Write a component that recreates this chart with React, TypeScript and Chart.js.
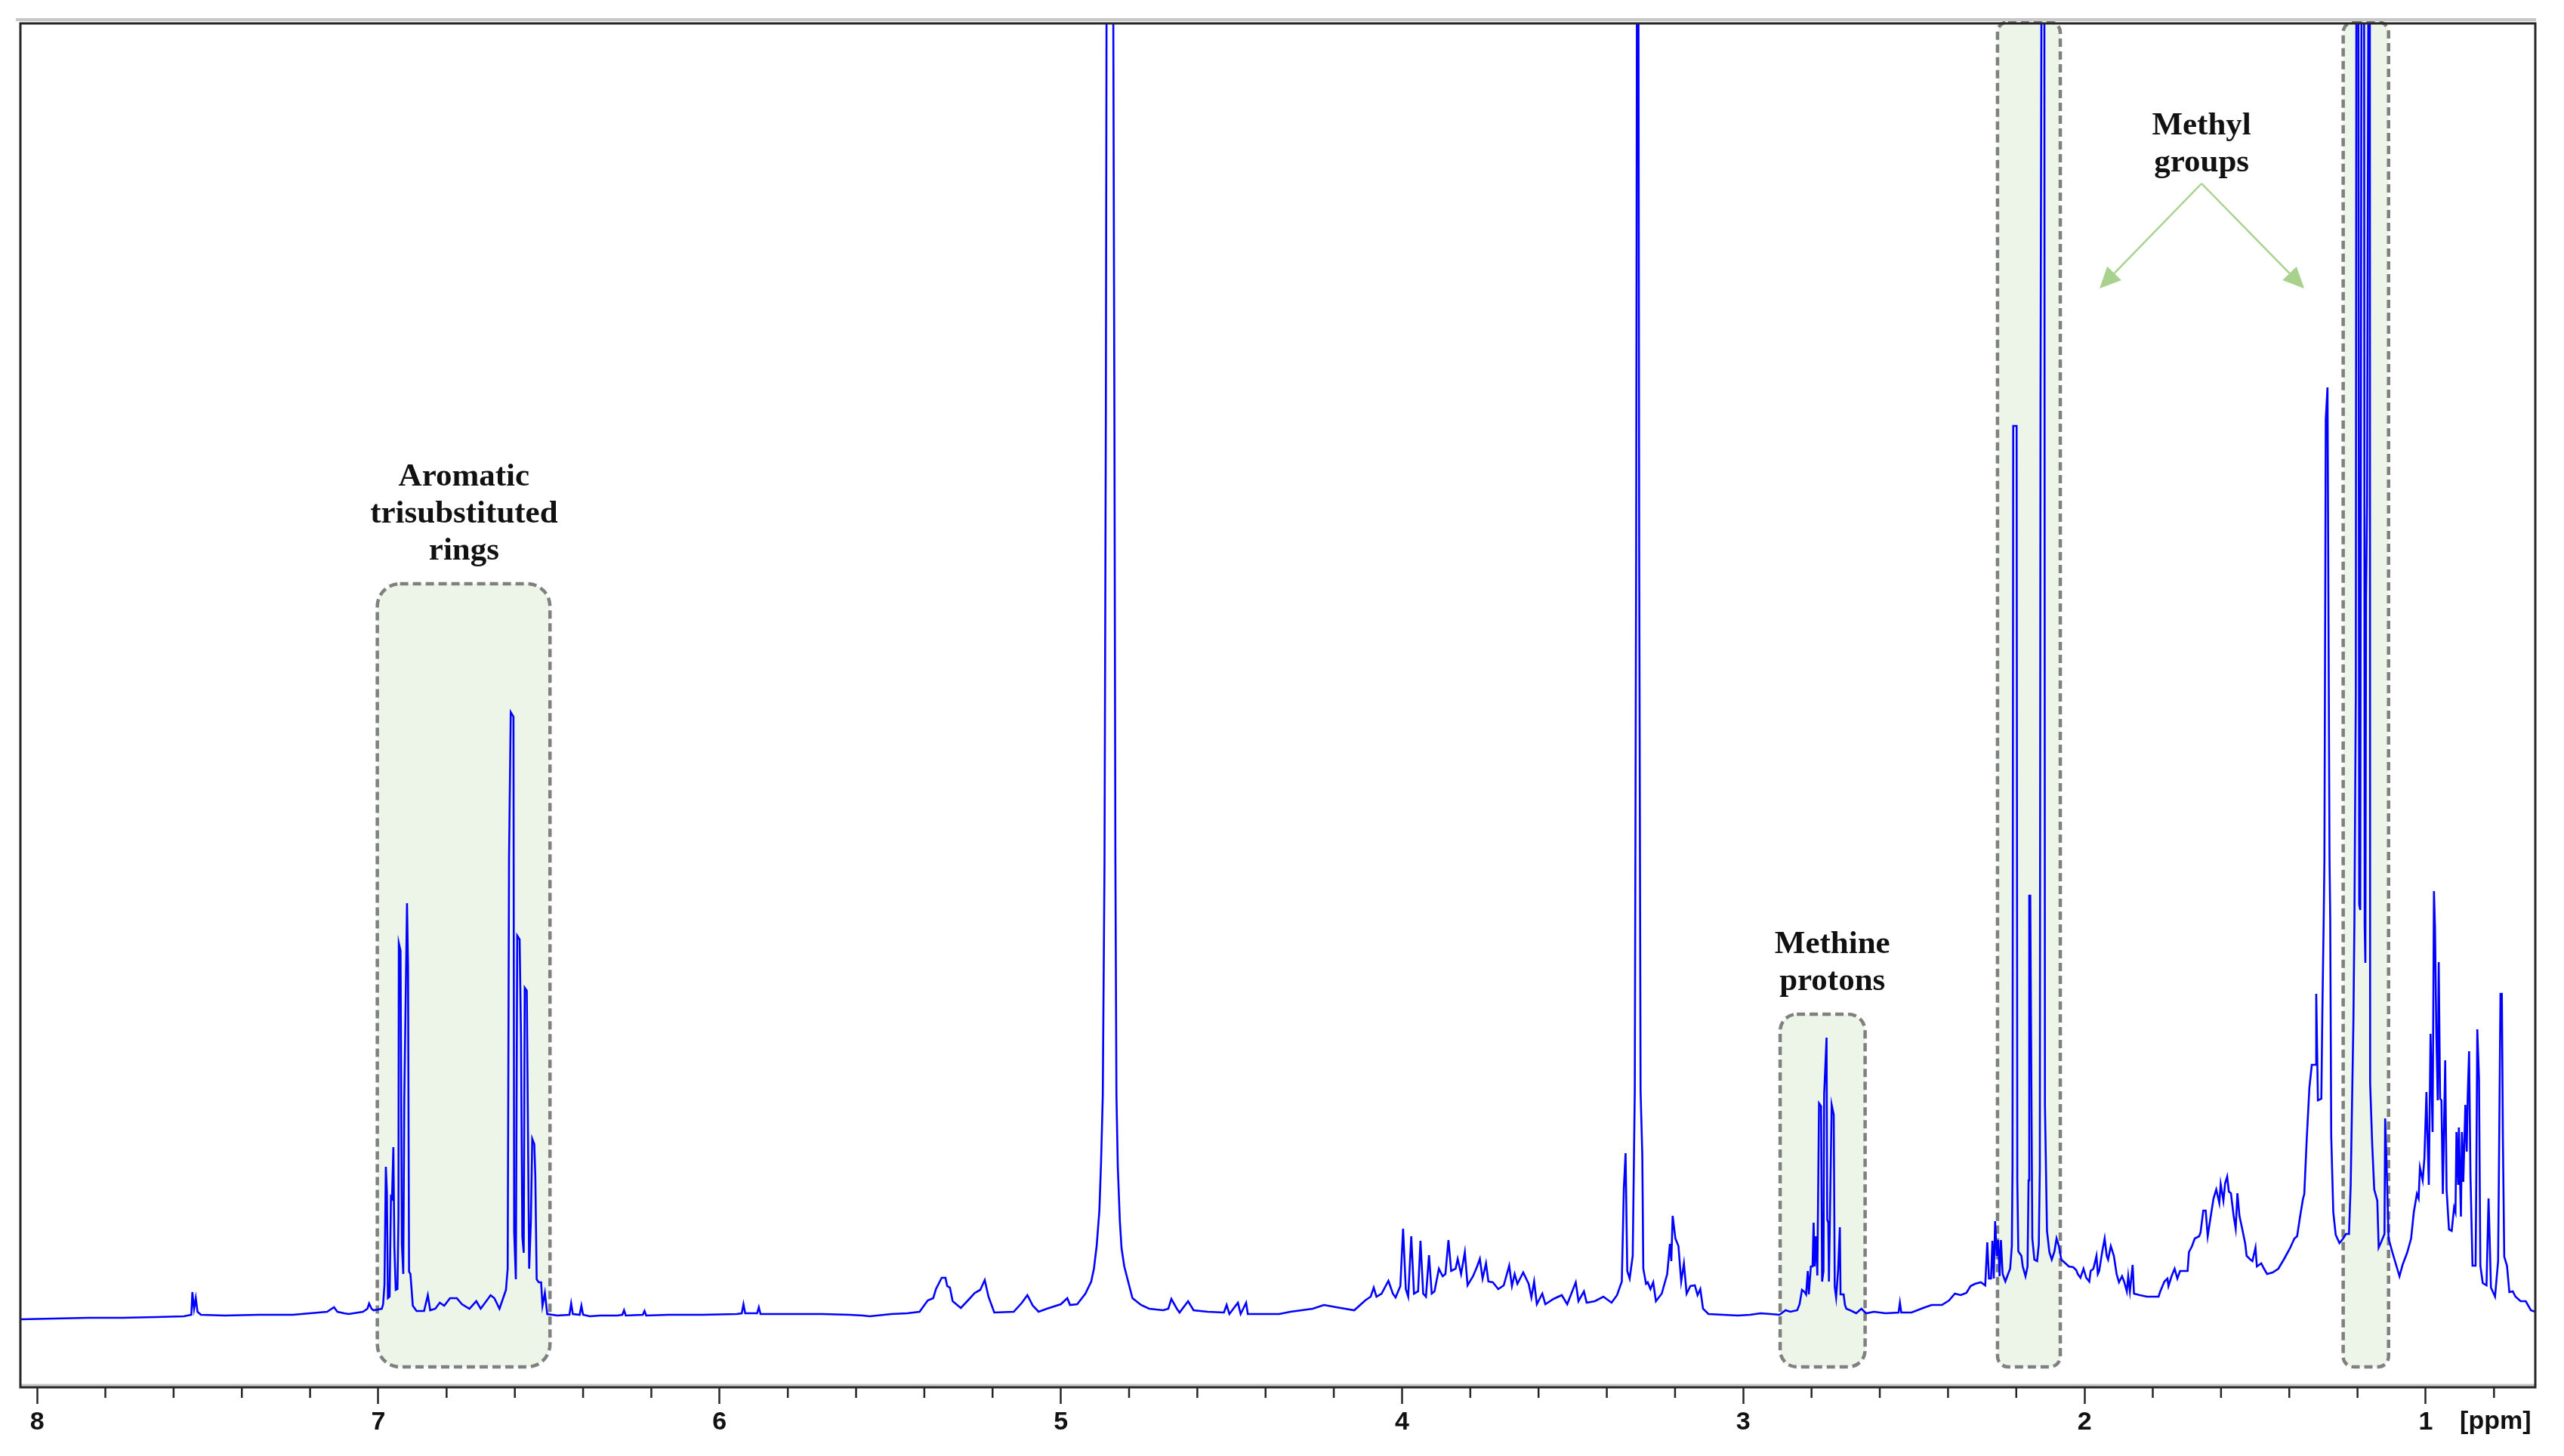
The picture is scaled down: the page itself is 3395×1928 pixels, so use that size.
import React, { useEffect, useRef } from 'react';
import { Chart, registerables } from 'chart.js';

Chart.register(...registerables);

// ---------- axis ----------
const majorTicks = [8, 7, 6, 5, 4, 3, 2, 1];
const minorTicks = [7.8, 7.6, 7.4, 7.2, 6.8, 6.6, 6.4, 6.2, 5.8, 5.6, 5.4, 5.2, 4.8, 4.6, 4.4, 4.2, 3.8, 3.6, 3.4, 3.2, 2.8, 2.6, 2.4, 2.2, 1.8, 1.6, 1.4, 1.2, 0.8];
const ppmRange = [0.679, 8.049];
const intensityRange = [-92, 1714];
const unitLabel = '[ppm]';

// ---------- spectrum (ppm, intensity) ----------
const downfieldTrace = [
  [8.049, -2], [7.95, -1], [7.85, 0], [7.75, 0], [7.65, 1], [7.57, 2], [7.548, 4], [7.545, 34], [7.54, 12],
  [7.535, 26], [7.53, 8], [7.52, 4], [7.45, 3], [7.35, 4], [7.25, 4], [7.2, 6], [7.15, 8], [7.13, 14], [7.12, 8], [7.1, 6],
];

const aromaticTrace = [
  [7.087, 5], [7.045, 8], [7.032, 12], [7.027, 19], [7.02, 12], [7.014, 10], [6.99, 12], [6.986, 18], [6.982, 44],
  [6.978, 200], [6.975, 167], [6.972, 26], [6.967, 28], [6.963, 160], [6.96, 158], [6.956, 226], [6.953, 93],
  [6.949, 37], [6.944, 38], [6.941, 135], [6.94, 496], [6.935, 486], [6.931, 97], [6.927, 58], [6.924, 289],
  [6.916, 549], [6.913, 465], [6.91, 61], [6.906, 58], [6.899, 16], [6.888, 9], [6.866, 9], [6.855, 30], [6.848, 10],
  [6.833, 12], [6.82, 20], [6.807, 16], [6.79, 26], [6.77, 26], [6.755, 18], [6.733, 12], [6.713, 22], [6.7, 12],
  [6.671, 30], [6.66, 26], [6.645, 12], [6.626, 37], [6.621, 65], [6.617, 609], [6.612, 802], [6.604, 796],
  [6.602, 114], [6.597, 51], [6.593, 506], [6.586, 501], [6.582, 374], [6.578, 107], [6.574, 86], [6.571, 437],
  [6.565, 433], [6.562, 272], [6.558, 65], [6.553, 128], [6.549, 237], [6.543, 230], [6.54, 188], [6.536, 51],
  [6.53, 47], [6.523, 47], [6.519, 16], [6.512, 33], [6.505, 5], [6.475, 3], [6.44, 4], [6.435, 19], [6.43, 5],
  [6.41, 4], [6.405, 16], [6.4, 4], [6.38, 2],
];

const olefinicTrace = [
  [6.35, 3], [6.3, 3], [6.285, 4], [6.28, 10], [6.275, 3], [6.225, 4], [6.22, 9], [6.215, 3], [6.15, 4], [6.05, 4],
  [5.95, 5], [5.935, 6], [5.93, 18], [5.925, 6], [5.89, 6], [5.885, 14], [5.88, 5], [5.8, 5], [5.7, 5], [5.62, 4], [5.58, 3],
];

const midTrace = [
  [5.56, 2], [5.496, 5], [5.45, 6], [5.414, 8], [5.39, 23], [5.374, 26], [5.366, 38], [5.349, 53], [5.338, 53],
  [5.333, 42], [5.325, 40], [5.317, 22], [5.293, 13], [5.268, 25], [5.252, 33], [5.236, 37], [5.223, 50], [5.212, 28],
  [5.195, 7], [5.138, 8], [5.114, 20], [5.098, 30], [5.082, 16], [5.065, 8], [5.041, 12], [5.0, 18], [4.981, 26],
  [4.973, 17], [4.952, 18], [4.928, 32], [4.911, 48], [4.903, 65], [4.895, 95], [4.887, 142], [4.882, 207],
  [4.877, 295], [4.872, 600], [4.868, 1200], [4.865, 2000], [4.848, 2000], [4.843, 1200], [4.84, 600], [4.837, 295],
  [4.833, 200], [4.827, 128], [4.822, 92], [4.814, 68], [4.801, 45], [4.79, 26], [4.765, 17], [4.741, 12], [4.7, 10],
  [4.685, 12], [4.676, 25], [4.66, 12], [4.652, 7], [4.627, 22], [4.611, 10], [4.57, 8], [4.522, 7], [4.514, 17],
  [4.506, 5], [4.481, 20], [4.473, 5], [4.457, 20], [4.452, 5], [4.36, 5], [4.327, 8], [4.262, 12], [4.229, 17],
  [4.18, 13], [4.14, 10], [4.108, 23], [4.092, 28], [4.083, 40], [4.075, 28], [4.06, 32], [4.04, 49], [4.027, 32],
  [4.019, 27], [4.005, 42], [3.997, 118], [3.989, 38], [3.982, 28], [3.973, 108], [3.965, 32], [3.953, 35],
  [3.946, 102], [3.938, 32], [3.93, 28], [3.921, 83], [3.913, 32], [3.905, 35], [3.892, 65], [3.881, 55], [3.873, 58],
  [3.864, 103], [3.856, 62], [3.843, 65], [3.837, 78], [3.827, 58], [3.816, 87], [3.808, 43], [3.792, 55], [3.78, 68],
  [3.772, 78], [3.764, 52], [3.754, 72], [3.747, 48], [3.734, 47], [3.718, 38], [3.702, 43], [3.686, 69], [3.678, 42],
  [3.67, 58], [3.662, 45], [3.645, 60], [3.629, 45], [3.621, 27], [3.613, 48], [3.605, 18], [3.589, 32], [3.58, 18],
  [3.556, 25], [3.532, 30], [3.516, 18], [3.491, 47], [3.483, 22], [3.467, 35], [3.459, 20], [3.435, 22], [3.41, 28],
  [3.386, 20], [3.37, 30], [3.356, 48], [3.35, 172], [3.345, 218], [3.34, 62], [3.333, 52], [3.324, 82], [3.318, 300],
  [3.314, 1000], [3.311, 2000], [3.308, 2000], [3.305, 1000], [3.301, 300], [3.296, 217], [3.293, 65], [3.285, 45],
  [3.28, 47], [3.272, 38],
  [3.264, 47], [3.256, 22], [3.239, 32], [3.223, 58], [3.215, 98], [3.211, 75], [3.207, 135], [3.199, 105], [3.19, 95],
  [3.182, 48], [3.174, 72], [3.166, 32], [3.155, 42], [3.142, 43], [3.134, 30], [3.126, 38], [3.118, 12], [3.102, 5],
  [3.06, 4], [3.016, 3],
];

const methineTrace = [
  [2.98, 4], [2.949, 6], [2.92, 5], [2.894, 4], [2.876, 10], [2.862, 8], [2.842, 10], [2.835, 18], [2.828, 37],
  [2.82, 34], [2.816, 31], [2.811, 62], [2.808, 31], [2.802, 68], [2.797, 68], [2.794, 126], [2.791, 68], [2.787, 108],
  [2.783, 56], [2.778, 284], [2.772, 280], [2.769, 48], [2.765, 62], [2.763, 296], [2.756, 371], [2.754, 130],
  [2.751, 126], [2.749, 48], [2.741, 282], [2.735, 269], [2.732, 41], [2.728, 27], [2.722, 64], [2.717, 120],
  [2.715, 31], [2.706, 31], [2.702, 17], [2.698, 12], [2.687, 10], [2.669, 6], [2.654, 12], [2.64, 6],
];

const methylTrace = [
  [2.617, 8], [2.583, 6], [2.545, 7], [2.541, 20], [2.537, 7], [2.507, 7], [2.473, 13], [2.448, 17], [2.418, 17],
  [2.397, 23], [2.38, 32], [2.363, 30], [2.346, 33], [2.334, 42], [2.321, 45], [2.304, 47], [2.291, 43], [2.285, 100],
  [2.28, 52], [2.274, 52], [2.27, 102], [2.266, 52], [2.262, 128], [2.257, 82], [2.253, 103], [2.249, 55], [2.245, 103],
  [2.24, 58], [2.232, 48], [2.224, 58], [2.218, 65], [2.213, 95], [2.211, 198], [2.209, 1181], [2.199, 1181],
  [2.197, 182], [2.194, 88], [2.185, 82], [2.181, 68], [2.173, 55], [2.167, 68], [2.164, 182], [2.162, 559],
  [2.159, 559], [2.157, 400], [2.153, 105], [2.147, 77], [2.139, 75], [2.134, 97], [2.131, 198], [2.129, 1202],
  [2.125, 2000], [2.118, 2000], [2.116, 282], [2.11, 115], [2.103, 87], [2.096, 77], [2.088, 88], [2.082, 105],
  [2.075, 95], [2.068, 77], [2.058, 73], [2.046, 68], [2.033, 67], [2.024, 63], [2.02, 58], [2.012, 53], [2.003, 65],
  [1.995, 53], [1.986, 48], [1.982, 62], [1.974, 65], [1.965, 82], [1.961, 58], [1.957, 62], [1.948, 88], [1.941, 105],
  [1.935, 82], [1.931, 77], [1.923, 95], [1.914, 82], [1.906, 58], [1.899, 47], [1.89, 55], [1.884, 48], [1.876, 35],
  [1.872, 55], [1.867, 35], [1.859, 70], [1.855, 32], [1.838, 30], [1.817, 28], [1.783, 28], [1.778, 35], [1.766, 48],
  [1.757, 52], [1.754, 42], [1.745, 55], [1.736, 65], [1.728, 52], [1.72, 62], [1.698, 62], [1.694, 87], [1.685, 95],
  [1.677, 105], [1.664, 108], [1.66, 113], [1.652, 142], [1.645, 142], [1.639, 108], [1.631, 132], [1.622, 158],
  [1.614, 170], [1.605, 152], [1.601, 177], [1.593, 155], [1.588, 178], [1.582, 187], [1.577, 167], [1.571, 165],
  [1.563, 135], [1.557, 118], [1.552, 165], [1.546, 135], [1.538, 118], [1.529, 98], [1.525, 82], [1.516, 78],
  [1.508, 75], [1.499, 93], [1.495, 68], [1.482, 72], [1.474, 65], [1.465, 58], [1.449, 60], [1.432, 65], [1.415, 78],
  [1.398, 92], [1.385, 105], [1.377, 108], [1.368, 135], [1.36, 157],
];

const upfieldTrace = [
  [1.356, 164], [1.349, 235], [1.341, 305], [1.334, 335], [1.323, 335], [1.321, 429], [1.316, 288], [1.306, 290],
  [1.303, 406], [1.299, 530], [1.297, 606], [1.293, 1190], [1.288, 1232], [1.282, 606], [1.28, 530], [1.277, 240],
  [1.271, 140], [1.264, 110], [1.253, 99], [1.242, 105], [1.234, 111], [1.225, 111], [1.22, 176], [1.212, 394],
  [1.209, 530], [1.205, 825], [1.203, 2000], [1.198, 2000], [1.195, 547], [1.192, 540], [1.189, 1574], [1.187, 2000],
  [1.181, 2000], [1.179, 518], [1.177, 470], [1.175, 954], [1.172, 1077], [1.169, 1627], [1.167, 2000], [1.164, 2000],
  [1.163, 311], [1.157, 230], [1.151, 170], [1.142, 155], [1.138, 93], [1.131, 100], [1.121, 111], [1.119, 264],
  [1.114, 190], [1.109, 105], [1.098, 87], [1.077, 55], [1.068, 70], [1.054, 87], [1.043, 105], [1.035, 140],
  [1.026, 164], [1.021, 158], [1.017, 199], [1.009, 182], [1.004, 211], [0.998, 299], [0.995, 240], [0.991, 176],
  [0.986, 376], [0.98, 246], [0.976, 565], [0.973, 518], [0.969, 376], [0.965, 288], [0.962, 471], [0.958, 290],
  [0.954, 288], [0.95, 164], [0.943, 341], [0.939, 170], [0.932, 117], [0.924, 115], [0.917, 146], [0.913, 140],
  [0.91, 246], [0.905, 176], [0.903, 252], [0.897, 134], [0.894, 246], [0.89, 180], [0.884, 282], [0.88, 220],
  [0.877, 294], [0.873, 353], [0.869, 188], [0.863, 69], [0.854, 69], [0.852, 176], [0.849, 382], [0.844, 317],
  [0.84, 69], [0.833, 46], [0.822, 43], [0.816, 158], [0.812, 93], [0.809, 40], [0.797, 28], [0.788, 75], [0.781, 429],
  [0.777, 429], [0.774, 240], [0.77, 81], [0.762, 69], [0.755, 34], [0.745, 35], [0.737, 28], [0.722, 22], [0.707, 22],
  [0.692, 10], [0.679, 8],
];

// ---------- annotations (ppm / intensity coordinates) ----------
const regionBoxes = [
  { from: 7.003, to: 6.497, top: 972, bottom: -65, radius: 30 },
  { from: 2.892, to: 2.643, top: 402, bottom: -65, radius: 22 },
  { from: 2.255, to: 2.071, top: 1716, bottom: -65, radius: 14 },
  { from: 1.242, to: 1.109, top: 1716, bottom: -65, radius: 14 },
];

const regionLabels = [
  { ppm: 6.749, lines: ['Aromatic', 'trisubstituted', 'rings'], top: 1113 },
  { ppm: 2.739, lines: ['Methine', 'protons'], top: 494 },
  { ppm: 1.657, lines: ['Methyl', 'groups'], top: 1578 },
];

const methylArrows = [
  { from: [1.657, 1502], to: [1.956, 1363] },
  { from: [1.657, 1502], to: [1.356, 1363] },
];

const allTraces = [downfieldTrace, aromaticTrace, olefinicTrace, midTrace, methineTrace, methylTrace, upfieldTrace];

const TICK_FONT = 'bold 34px "Liberation Sans", Arial, sans-serif';
const LABEL_FONT = 'bold 43px "Liberation Serif", "Times New Roman", serif';

const decorPlugin = {
  id: 'nmrDecor',
  beforeDatasetsDraw(chart: any) {
    const { ctx } = chart;
    const xs = chart.scales.x;
    const ys = chart.scales.y;
    ctx.save();
    for (const b of regionBoxes) {
      const x1 = xs.getPixelForValue(b.from);
      const x2 = xs.getPixelForValue(b.to);
      const y1 = ys.getPixelForValue(b.top);
      const y2 = ys.getPixelForValue(b.bottom);
      ctx.beginPath();
      if ((ctx as any).roundRect) (ctx as any).roundRect(x1, y1, x2 - x1, y2 - y1, b.radius);
      else ctx.rect(x1, y1, x2 - x1, y2 - y1);
      ctx.fillStyle = '#EDF4E8';
      ctx.fill();
      ctx.setLineDash([11, 6]);
      ctx.lineWidth = 4.5;
      ctx.strokeStyle = '#808080';
      ctx.stroke();
    }
    ctx.restore();
  },
  afterDatasetsDraw(chart: any) {
    const { ctx } = chart;
    const xs = chart.scales.x;
    const ys = chart.scales.y;
    ctx.save();
    ctx.font = LABEL_FONT;
    ctx.fillStyle = '#111111';
    ctx.textAlign = 'center';
    ctx.textBaseline = 'middle';
    for (const l of regionLabels) {
      const x = xs.getPixelForValue(l.ppm);
      const y0 = ys.getPixelForValue(l.top);
      l.lines.forEach((t, i) => ctx.fillText(t, x, y0 + i * 49));
    }
    ctx.strokeStyle = '#A9D18E';
    ctx.fillStyle = '#A9D18E';
    ctx.lineWidth = 2.5;
    for (const a of methylArrows) {
      const x1 = xs.getPixelForValue(a.from[0]);
      const y1 = ys.getPixelForValue(a.from[1]);
      const x2 = xs.getPixelForValue(a.to[0]);
      const y2 = ys.getPixelForValue(a.to[1]);
      const ang = Math.atan2(y2 - y1, x2 - x1);
      const hl = 28;
      const hw = 13;
      const bx = x2 - hl * Math.cos(ang);
      const by = y2 - hl * Math.sin(ang);
      ctx.beginPath();
      ctx.moveTo(x1, y1);
      ctx.lineTo(bx, by);
      ctx.stroke();
      ctx.beginPath();
      ctx.moveTo(x2, y2);
      ctx.lineTo(bx + hw * Math.sin(ang), by - hw * Math.cos(ang));
      ctx.lineTo(bx - hw * Math.sin(ang), by + hw * Math.cos(ang));
      ctx.closePath();
      ctx.fill();
    }
    ctx.restore();
  },
  afterDraw(chart: any) {
    const { ctx, chartArea } = chart;
    const xs = chart.scales.x;
    const { left, right, top, bottom } = chartArea;
    ctx.save();
    ctx.strokeStyle = '#C8C8C8';
    ctx.lineWidth = 4;
    ctx.beginPath();
    ctx.moveTo(left - 6, top - 5);
    ctx.lineTo(right + 1, top - 5);
    ctx.stroke();
    ctx.lineWidth = 3;
    ctx.beginPath();
    ctx.moveTo(left, bottom - 3);
    ctx.lineTo(right, bottom - 3);
    ctx.stroke();
    ctx.strokeStyle = '#262626';
    ctx.lineWidth = 3;
    ctx.strokeRect(left, top, right - left, bottom - top);
    ctx.lineWidth = 2.5;
    for (const v of minorTicks) {
      const x = xs.getPixelForValue(v);
      ctx.beginPath();
      ctx.moveTo(x, bottom);
      ctx.lineTo(x, bottom + 14);
      ctx.stroke();
    }
    ctx.font = TICK_FONT;
    ctx.fillStyle = '#111111';
    ctx.textAlign = 'center';
    ctx.textBaseline = 'middle';
    ctx.fillText(unitLabel, xs.getPixelForValue(0.8) + 2, bottom + 46);
    ctx.restore();
  },
};

export default function App() {
  const ref = useRef<HTMLCanvasElement>(null);
  useEffect(() => {
    const points = allTraces.flat().map(([x, y]) => ({ x, y }));
    const chart = new Chart(ref.current as HTMLCanvasElement, {
      type: 'line',
      data: {
        datasets: [
          {
            data: points,
            borderColor: '#0000FF',
            borderWidth: 2.6,
            pointRadius: 0,
            fill: false,
            tension: 0,
          },
        ],
      },
      options: {
        animation: false,
        responsive: false,
        devicePixelRatio: 1,
        events: [],
        layout: { padding: { left: 27, right: 38, top: 31, bottom: 0 } },
        plugins: { legend: { display: false }, tooltip: { enabled: false }, title: { display: false } },
        scales: {
          x: {
            type: 'linear',
            reverse: true,
            min: ppmRange[0],
            max: ppmRange[1],
            afterBuildTicks: (s: any) => {
              s.ticks = majorTicks.map((v) => ({ value: v }));
            },
            afterFit: (s: any) => {
              s.height = 91;
            },
            border: { display: false },
            grid: { drawOnChartArea: false, drawTicks: true, tickLength: 22, tickWidth: 2.5, tickColor: '#262626' },
            ticks: {
              autoSkip: false,
              maxRotation: 0,
              padding: 4,
              color: '#111111',
              font: { family: '"Liberation Sans", Arial, sans-serif', weight: 'bold', size: 34 },
              callback: (v: any) => String(v),
            },
          },
          y: { type: 'linear', display: false, min: intensityRange[0], max: intensityRange[1] },
        },
      },
      plugins: [decorPlugin],
    } as any);
    return () => chart.destroy();
  }, []);
  return (
    <div style={{ position: 'absolute', left: 0, top: 0, width: 3395, height: 1928, background: '#ffffff' }}>
      <canvas ref={ref} width={3395} height={1928} style={{ display: 'block', width: 3395, height: 1928 }} />
    </div>
  );
}
